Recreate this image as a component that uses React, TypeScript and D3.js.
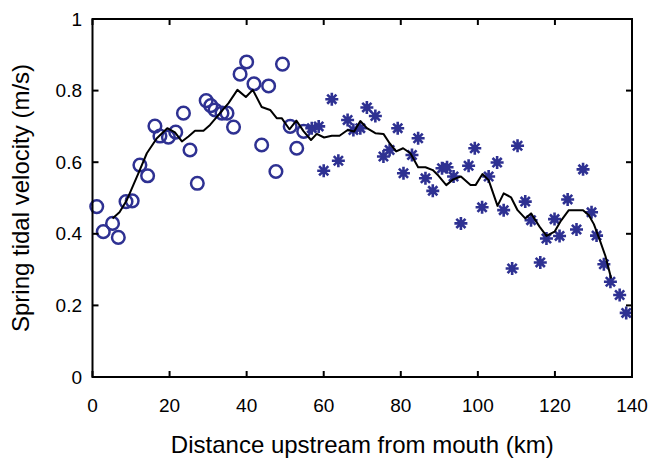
import React from "react";
import * as d3 from "d3";

const xTicks = [0, 20, 40, 60, 80, 100, 120, 140];
const yTicks = [0, 0.2, 0.4, 0.6, 0.8, 1];

const circleX = [1.1, 2.8, 5.2, 6.7, 8.7, 10.3, 12.3, 14.3, 16.2, 17.5, 19.7, 21.6, 23.6, 25.3, 27.2, 29.5, 30.7, 31.8, 33.6, 34.9, 36.6, 38.3, 40.0, 41.9, 43.9, 45.7, 47.6, 49.3, 51.3, 53.0, 54.8];
const circleY = [0.476, 0.406, 0.429, 0.39, 0.49, 0.492, 0.592, 0.562, 0.701, 0.673, 0.67, 0.684, 0.737, 0.634, 0.541, 0.772, 0.758, 0.746, 0.737, 0.737, 0.698, 0.846, 0.88, 0.819, 0.648, 0.813, 0.574, 0.874, 0.70, 0.639, 0.686];

const starX = [56.9, 58.7, 60.0, 62.1, 63.8, 66.2, 67.7, 69.5, 71.2, 73.4, 75.5, 77.1, 79.2, 80.7, 82.9, 84.5, 86.4, 88.3, 90.7, 92.0, 93.7, 95.6, 97.6, 99.2, 101.1, 102.8, 105.0, 106.7, 108.9, 110.3, 112.3, 113.8, 116.2, 117.8, 119.9, 121.2, 123.3, 125.6, 127.3, 129.5, 130.8, 132.7, 134.4, 136.8, 138.5];
const starY = [0.695, 0.70, 0.576, 0.776, 0.604, 0.718, 0.69, 0.695, 0.753, 0.729, 0.616, 0.634, 0.695, 0.569, 0.62, 0.667, 0.555, 0.52, 0.583, 0.586, 0.56, 0.429, 0.59, 0.639, 0.474, 0.56, 0.599, 0.466, 0.303, 0.646, 0.49, 0.438, 0.32, 0.387, 0.441, 0.394, 0.496, 0.412, 0.58, 0.46, 0.395, 0.315, 0.266, 0.229, 0.179];

const lineX = [5.2, 7.0, 8.9, 11.9, 14.1, 16.7, 19.4, 21.4, 23.2, 24.9, 26.6, 28.8, 30.5, 33.1, 35.3, 37.6, 39.8, 41.6, 43.9, 46.1, 47.8, 49.1, 51.1, 52.9, 54.8, 56.7, 58.2, 60.1, 62.1, 64.1, 66.2, 67.9, 69.5, 71.2, 73.4, 75.5, 77.1, 78.8, 80.6, 82.5, 84.5, 86.4, 88.3, 89.8, 91.8, 93.6, 95.6, 98.1, 99.4, 101.2, 102.8, 105.1, 106.7, 108.6, 110.3, 112.3, 113.8, 116.0, 117.8, 119.9, 121.4, 123.6, 127.3, 128.8, 130.1, 131.6, 133.1, 134.6];
const lineY = [0.443, 0.46, 0.494, 0.569, 0.625, 0.667, 0.695, 0.683, 0.658, 0.672, 0.688, 0.688, 0.704, 0.737, 0.765, 0.802, 0.782, 0.802, 0.754, 0.746, 0.723, 0.723, 0.692, 0.716, 0.686, 0.662, 0.679, 0.669, 0.674, 0.674, 0.69, 0.686, 0.715, 0.695, 0.681, 0.679, 0.653, 0.63, 0.639, 0.625, 0.586, 0.586, 0.578, 0.562, 0.536, 0.552, 0.56, 0.536, 0.536, 0.567, 0.55, 0.478, 0.513, 0.502, 0.466, 0.443, 0.457, 0.42, 0.394, 0.406, 0.434, 0.466, 0.466, 0.452, 0.427, 0.384, 0.338, 0.275];

const W = 649;
const H = 459;
const L = 92.5, R = 632, T = 19, B = 377;
const BLUE = "#2e3192";
const FONT = "'Liberation Sans', Arial, Helvetica, sans-serif";

export default function App() {
  const x = d3.scaleLinear().domain([0, 140]).range([L, R]);
  const y = d3.scaleLinear().domain([0, 1]).range([B, T]);
  const line = d3.line<number>().x((_, i) => x(lineX[i])).y((d) => y(d));
  const lineD = line(lineY) || "";
  const tl = 6;
  const s = 6.5;
  const sd = s * Math.SQRT1_2;
  const starPath = `M${-s},0L${s},0M0,${-s}L0,${s}M${-sd},${-sd}L${sd},${sd}M${-sd},${sd}L${sd},${-sd}`;

  return (
    <>
      <style>{`body{margin:0}`}</style>
      <svg width={W} height={H} style={{ display: "block", background: "#fff" }} fontFamily={FONT}>
        {circleX.map((cx, i) => (
          <circle key={"c" + i} cx={x(cx)} cy={y(circleY[i])} r={6.3} fill="none" stroke={BLUE} strokeWidth={2.5} />
        ))}
        {starX.map((sx, i) => (
          <path key={"s" + i} d={starPath} transform={`translate(${x(sx)},${y(starY[i])})`} stroke={BLUE} strokeWidth={2.6} fill="none" />
        ))}
        <path d={lineD} fill="none" stroke="#000" strokeWidth={2} strokeLinejoin="round" />
        <rect x={L} y={T} width={R - L} height={B - T} fill="none" stroke="#000" strokeWidth={2} />
        {xTicks.map((t) => (
          <g key={"xt" + t}>
            <line x1={x(t)} x2={x(t)} y1={B} y2={B - tl} stroke="#000" strokeWidth={2} />
            <line x1={x(t)} x2={x(t)} y1={T} y2={T + tl} stroke="#000" strokeWidth={2} />
            <text x={x(t)} y={412} textAnchor="middle" fontSize={19}>{t}</text>
          </g>
        ))}
        {yTicks.map((t) => (
          <g key={"yt" + t}>
            <line x1={L} x2={L + tl} y1={y(t)} y2={y(t)} stroke="#000" strokeWidth={2} />
            <line x1={R} x2={R - tl} y1={y(t)} y2={y(t)} stroke="#000" strokeWidth={2} />
            <text x={82} y={y(t) + 6.5} textAnchor="end" fontSize={19}>{t}</text>
          </g>
        ))}
        <text x={(L + R) / 2} y={453} textAnchor="middle" fontSize={24}>Distance upstream from mouth (km)</text>
        <text transform={`translate(28.5,198) rotate(-90)`} textAnchor="middle" fontSize={24}>Spring tidal velocity (m/s)</text>
      </svg>
    </>
  );
}
